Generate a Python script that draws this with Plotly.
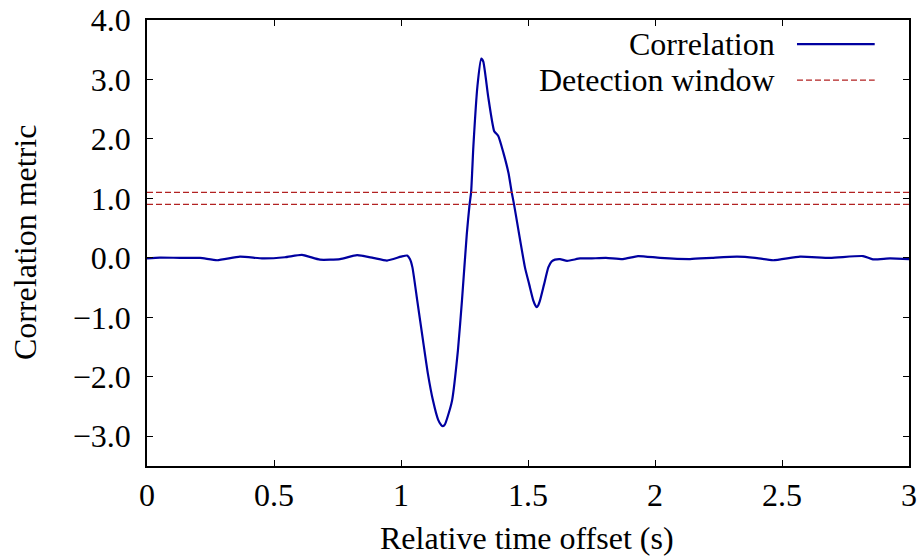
import plotly.graph_objects as go

# Correlation metric versus relative time offset
offset_s = [0.000, 0.051, 0.130, 0.209, 0.276, 0.366, 0.457, 0.543, 0.610, 0.681,
            0.760, 0.827, 0.890, 0.945, 1.000, 1.024, 1.035, 1.045, 1.064, 1.087,
            1.106, 1.126, 1.146, 1.158, 1.165, 1.173, 1.183, 1.201, 1.224, 1.240,
            1.259, 1.270, 1.276, 1.285, 1.301, 1.316, 1.324, 1.343, 1.367, 1.383,
            1.403, 1.423, 1.436, 1.445, 1.488, 1.505, 1.521, 1.529, 1.534, 1.540,
            1.547, 1.563, 1.580, 1.593, 1.606, 1.626, 1.654, 1.705, 1.744, 1.807,
            1.874, 1.933, 2.020, 2.138, 2.224, 2.323, 2.394, 2.465, 2.571, 2.689,
            2.819, 2.858, 2.925, 3.000]
correlation = [-0.01, 0.005, 0.00, 0.00, -0.04, 0.02, -0.01, 0.01, 0.05, -0.03,
               -0.02, 0.045, 0.00, -0.045, 0.02, 0.04, -0.02, -0.16, -0.72, -1.40,
               -1.95, -2.40, -2.72, -2.81, -2.83, -2.80, -2.68, -2.40, -1.56, -0.72,
               0.40, 0.90, 1.10, 1.88, 2.89, 3.35, 3.30, 2.72, 2.13, 2.05,
               1.77, 1.43, 1.10, 0.90, -0.16, -0.45, -0.72, -0.80, -0.83, -0.80,
               -0.72, -0.45, -0.16, -0.06, -0.03, -0.02, -0.05, -0.01, -0.01, 0.00,
               -0.02, 0.03, 0.00, -0.02, 0.00, 0.02, 0.00, -0.04, 0.02, 0.00,
               0.03, -0.025, -0.01, -0.02]

# Detection window bounds
window_x = [0.0, 3.0]
window_upper = 1.1
window_lower = 0.9

x_ticks = [0, 0.5, 1, 1.5, 2, 2.5, 3]
x_tick_text = ["0", "0.5", "1", "1.5", "2", "2.5", "3"]
y_ticks = [-3, -2, -1, 0, 1, 2, 3, 4]
y_tick_text = ["\u22123.0", "\u22122.0", "\u22121.0", "0.0", "1.0", "2.0", "3.0", "4.0"]

BLUE = "#0000a0"
RED = "#b22222"
FONT = "Liberation Serif"
FS = 32

fig = go.Figure()
fig.add_trace(go.Scatter(
    x=offset_s, y=correlation, mode="lines",
    line=dict(color=BLUE, width=2.2, shape="spline", smoothing=0.5),
    name="Correlation", showlegend=False,
))
for level in (window_upper, window_lower):
    fig.add_trace(go.Scatter(
        x=window_x, y=[level, level], mode="lines",
        line=dict(color=RED, width=1.3, dash="6px,3px"),
        name="Detection window", showlegend=False,
    ))

# gnuplot-style key: right-aligned text with sample line to its right
key_rows = [("Correlation", BLUE, "solid", 2.2, 0.946),
            ("Detection window", RED, "6px,3px", 1.3, 0.865)]
for label, color, dash, width, ypos in key_rows:
    fig.add_annotation(
        x=0.827, y=ypos, xref="paper", yref="paper", text=label,
        showarrow=False, xanchor="right", yanchor="middle",
        font=dict(family=FONT, size=FS, color="black"),
    )
    fig.add_shape(
        type="line", xref="paper", yref="paper",
        x0=0.853, x1=0.955, y0=ypos, y1=ypos,
        line=dict(color=color, width=width, dash=dash),
    )

# axis titles
fig.add_annotation(
    x=0.499, y=-0.161, xref="paper", yref="paper", text="Relative time offset (s)",
    showarrow=False, xanchor="center", yanchor="middle",
    font=dict(family=FONT, size=FS, color="black"),
)
fig.add_annotation(
    x=-0.160, y=0.5, xref="paper", yref="paper", text="Correlation metric",
    showarrow=False, xanchor="center", yanchor="middle", textangle=-90,
    font=dict(family=FONT, size=FS, color="black"),
)

axis_common = dict(
    showline=True, linecolor="black", linewidth=1.5, mirror="ticks",
    ticks="inside", ticklen=6, tickwidth=1, tickcolor="black",
    showgrid=False, zeroline=False, automargin=False,
    tickfont=dict(family=FONT, size=FS, color="black"),
)
fig.update_xaxes(range=[0, 3], tickvals=x_ticks, ticktext=x_tick_text, **axis_common)
fig.update_yaxes(range=[-3.5, 4.0], tickvals=y_ticks, ticktext=y_tick_text,
                 ticklabelstandoff=8, **axis_common)
fig.update_layout(
    width=919, height=557,
    margin=dict(l=147, r=10, t=20, b=91),
    paper_bgcolor="white", plot_bgcolor="white",
    font=dict(family=FONT, size=FS, color="black"),
)
fig.write_html("out.html")
